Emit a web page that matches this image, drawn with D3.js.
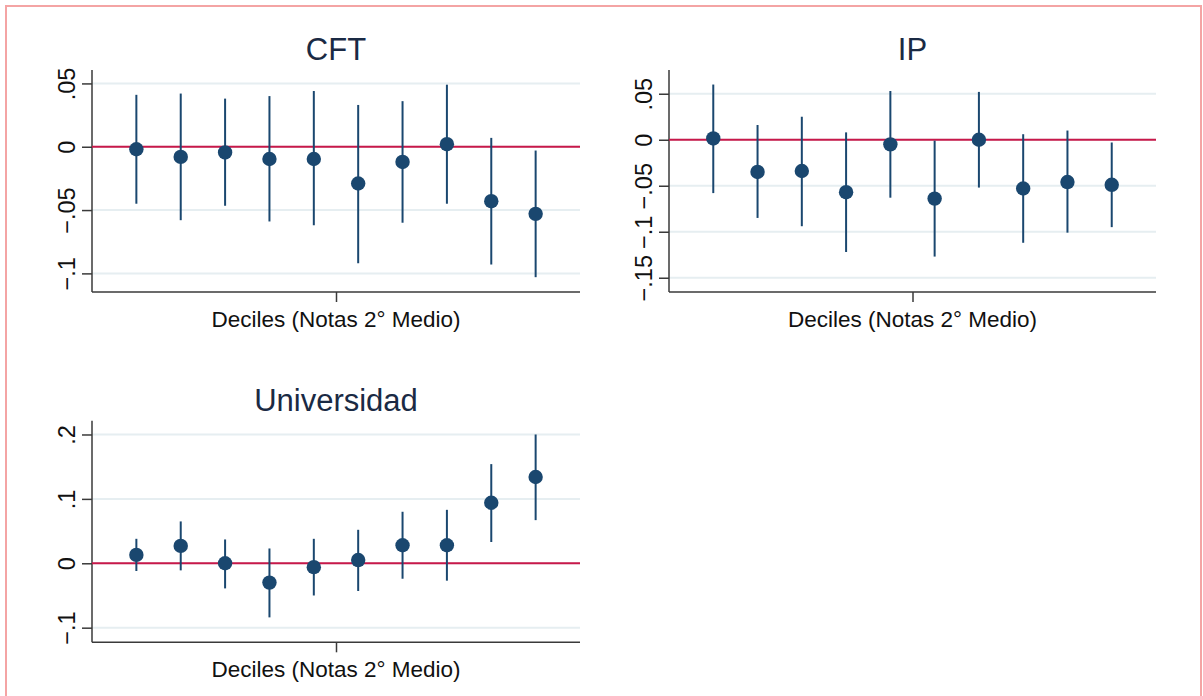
<!DOCTYPE html>
<html>
<head>
<meta charset="utf-8">
<script src="https://cdn.jsdelivr.net/npm/d3@7"></script>
<style>
  body { margin: 0; background: #fff; }
  svg { display: block; font-family: "Liberation Sans", Arial, sans-serif; }
</style>
</head>
<body>
<svg width="1203" height="696"></svg>
<script>
// deciles 1..10
var deciles = [1, 2, 3, 4, 5, 6, 7, 8, 9, 10];

// CFT
var cftCoef = [-0.002, -0.008, -0.0045, -0.0097, -0.0097, -0.029, -0.012, 0.002, -0.043, -0.053];
var cftLow  = [-0.045, -0.058, -0.0466, -0.059, -0.062, -0.092, -0.060, -0.045, -0.093, -0.103];
var cftHigh = [0.041, 0.042, 0.038, 0.040, 0.044, 0.033, 0.036, 0.049, 0.007, -0.003];
var cftTicks = [0.05, 0, -0.05, -0.1];

// IP
var ipCoef = [0.0014, -0.035, -0.034, -0.057, -0.005, -0.064, 0, -0.053, -0.046, -0.049];
var ipLow  = [-0.058, -0.085, -0.094, -0.122, -0.063, -0.127, -0.052, -0.112, -0.101, -0.095];
var ipHigh = [0.060, 0.016, 0.025, 0.008, 0.053, -0.001, 0.052, 0.006, 0.010, -0.003];
var ipTicks = [0.05, 0, -0.05, -0.1, -0.15];

// Universidad
var uniCoef = [0.013, 0.027, 0, -0.030, -0.006, 0.005, 0.028, 0.028, 0.094, 0.134];
var uniLow  = [-0.012, -0.011, -0.039, -0.084, -0.050, -0.043, -0.024, -0.027, 0.033, 0.067];
var uniHigh = [0.038, 0.065, 0.037, 0.023, 0.038, 0.052, 0.080, 0.083, 0.154, 0.200];
var uniTicks = [0.2, 0.1, 0, -0.1];

var titles = ["CFT", "IP", "Universidad"];
var xTitle = "Deciles (Notas 2° Medio)";

var navy = "#1a476f",
    red = "#c8184a",
    grid = "#e6eef1",
    axisCol = "#3a3a3a";

var svg = d3.select("svg");

// outer frame
svg.append("path")
    .attr("d", "M6,700V6H1201V700")
    .attr("fill", "none")
    .attr("stroke", "#f4a4a4")
    .attr("stroke-width", 2);

// Stata-like tick labels: .05, -.1, 0
function stataFmt(v) {
  var s = d3.format("")(+v.toFixed(3));
  return s.replace("0.", ".");
}

function panel(opt) {
  var x = d3.scaleLinear().domain([0, 11]).range([opt.left, opt.right]);
  var y = d3.scaleLinear().domain(opt.yDomain).range([opt.bottom, opt.top]);
  var g = svg.append("g");

  // gridlines
  g.append("g").selectAll("line")
    .data(opt.ticks)
    .enter().append("line")
      .attr("x1", opt.left).attr("x2", opt.right)
      .attr("y1", function(d) { return y(d); })
      .attr("y2", function(d) { return y(d); })
      .attr("stroke", grid)
      .attr("stroke-width", 2);

  // y axis
  var yAxis = g.append("g")
      .attr("transform", "translate(" + opt.left + ",0)")
      .call(d3.axisLeft(y).tickValues(opt.ticks).tickSize(10).tickFormat(stataFmt));
  yAxis.select(".domain").remove();
  yAxis.selectAll(".tick line").attr("stroke", axisCol).attr("stroke-width", 1.5);
  yAxis.selectAll(".tick text")
      .attr("x", null).attr("dy", null)
      .attr("transform", "translate(-17,0) rotate(-90)")
      .attr("text-anchor", "middle")
      .attr("font-size", 23.5)
      .attr("fill", "#111")
      .attr("font-family", "Liberation Sans, Arial, sans-serif");
  g.append("line")
      .attr("x1", opt.left).attr("x2", opt.left)
      .attr("y1", opt.top).attr("y2", opt.bottom)
      .attr("stroke", axisCol).attr("stroke-width", 1.5);

  // x axis (single mid tick, no label)
  var xAxis = g.append("g")
      .attr("transform", "translate(0," + opt.bottom + ")")
      .call(d3.axisBottom(x).tickValues([5.5]).tickSize(10).tickFormat(""));
  xAxis.select(".domain").remove();
  xAxis.selectAll(".tick line").attr("stroke", axisCol).attr("stroke-width", 1.5);
  g.append("line")
      .attr("x1", opt.left).attr("x2", opt.right)
      .attr("y1", opt.bottom).attr("y2", opt.bottom)
      .attr("stroke", axisCol).attr("stroke-width", 1.5);

  // zero reference line
  g.append("line")
      .attr("x1", opt.left).attr("x2", opt.right)
      .attr("y1", y(0)).attr("y2", y(0))
      .attr("stroke", red).attr("stroke-width", 2);

  // confidence intervals
  g.append("g").selectAll("line")
    .data(deciles)
    .enter().append("line")
      .attr("x1", function(d) { return x(d); })
      .attr("x2", function(d) { return x(d); })
      .attr("y1", function(d, i) { return y(opt.low[i]); })
      .attr("y2", function(d, i) { return y(opt.high[i]); })
      .attr("stroke", navy)
      .attr("stroke-width", 2);

  // point estimates
  g.append("g").selectAll("circle")
    .data(deciles)
    .enter().append("circle")
      .attr("cx", function(d) { return x(d); })
      .attr("cy", function(d, i) { return y(opt.coef[i]); })
      .attr("r", 7.2)
      .attr("fill", navy);

  // titles
  var cx = (opt.left + opt.right) / 2;
  g.append("text")
      .attr("x", cx).attr("y", opt.top - 10)
      .attr("text-anchor", "middle")
      .attr("font-size", 31)
      .attr("fill", "#1a2a44")
      .text(opt.title);
  g.append("text")
      .attr("x", cx).attr("y", opt.bottom + 35)
      .attr("text-anchor", "middle")
      .attr("font-size", 22.5)
      .attr("fill", "#111")
      .text(xTitle);
}

panel({ title: titles[0], left: 92, right: 580, top: 70, bottom: 292,
        yDomain: [-0.1147, 0.0606], ticks: cftTicks,
        coef: cftCoef, low: cftLow, high: cftHigh });

panel({ title: titles[1], left: 669, right: 1156, top: 70, bottom: 292,
        yDomain: [-0.1655, 0.0758], ticks: ipTicks,
        coef: ipCoef, low: ipLow, high: ipHigh });

panel({ title: titles[2], left: 92, right: 580, top: 420.7, bottom: 642.3,
        yDomain: [-0.1227, 0.2214], ticks: uniTicks,
        coef: uniCoef, low: uniLow, high: uniHigh });
</script>
</body>
</html>
